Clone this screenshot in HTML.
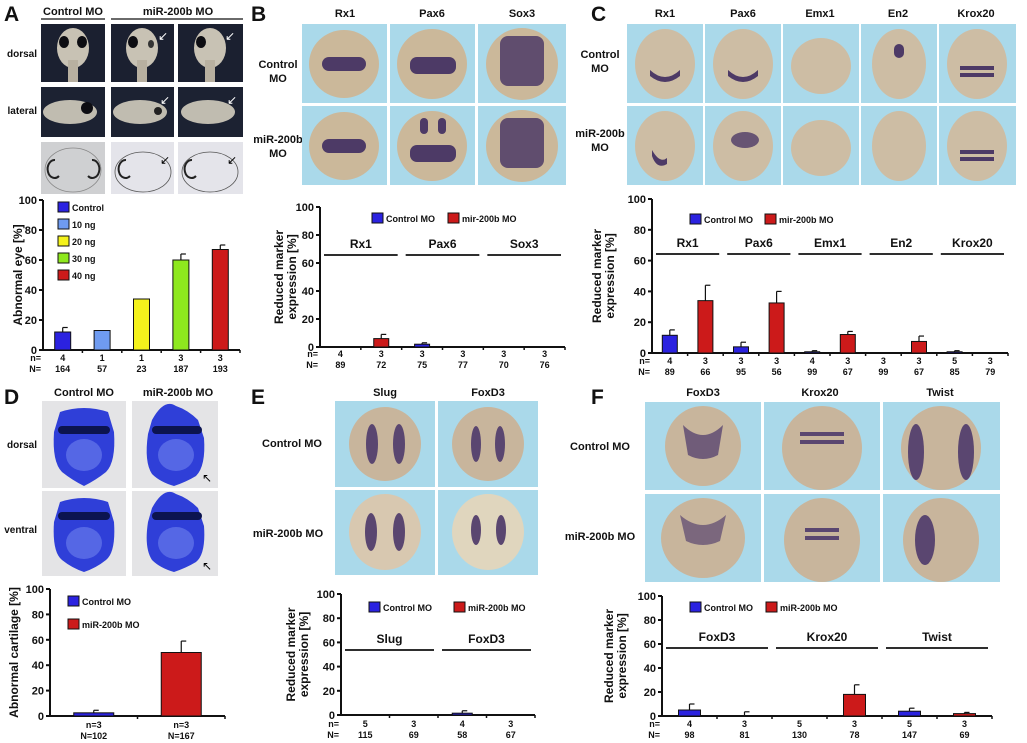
<!DOCTYPE html>
<html><head><meta charset="utf-8">
<style>
html,body{margin:0;padding:0;background:#fff;}
svg{display:block;font-family:"Liberation Sans",Arial,sans-serif;}
.t{font-weight:bold;fill:#111;}
</style></head>
<body>
<svg id="fig" width="1027" height="743" viewBox="0 0 1027 743" xmlns="http://www.w3.org/2000/svg">
<text class="t" x="4" y="21" font-size="21">A</text>
<text class="t" x="251" y="21" font-size="21">B</text>
<text class="t" x="591" y="21" font-size="21">C</text>
<text class="t" x="4" y="404" font-size="21">D</text>
<text class="t" x="251" y="404" font-size="21">E</text>
<text class="t" x="591" y="404" font-size="21">F</text>

<g>
<text class="t" x="73" y="15" font-size="11" text-anchor="middle">Control MO</text>
<line x1="41" y1="19" x2="105" y2="19" stroke="#111" stroke-width="1.2"/>
<text class="t" x="178" y="15" font-size="11" text-anchor="middle">miR-200b MO</text>
<line x1="111" y1="19" x2="243" y2="19" stroke="#111" stroke-width="1.2"/>
<text class="t" x="37" y="57" font-size="10" text-anchor="end">dorsal</text>
<text class="t" x="37" y="114" font-size="10" text-anchor="end">lateral</text>
<rect x="41" y="24" width="64" height="58" fill="#1b2030"/>
<rect x="111" y="24" width="63" height="58" fill="#1b2030"/>
<rect x="178" y="24" width="65" height="58" fill="#1b2030"/>
<ellipse cx="73" cy="48" rx="16" ry="20" fill="#c8c2b4"/><rect x="68" y="60" width="10" height="22" fill="#b8b0a0"/>
<ellipse cx="64" cy="42" rx="5" ry="6" fill="#0d0d12"/><ellipse cx="82" cy="42" rx="5" ry="6" fill="#0d0d12"/>
<ellipse cx="142" cy="48" rx="16" ry="20" fill="#c8c2b4"/><rect x="137" y="60" width="10" height="22" fill="#b8b0a0"/>
<ellipse cx="133" cy="42" rx="5" ry="6" fill="#0d0d12"/><ellipse cx="151" cy="44" rx="3" ry="4" fill="#333"/>
<ellipse cx="210" cy="48" rx="16" ry="20" fill="#c8c2b4"/><rect x="205" y="60" width="10" height="22" fill="#b8b0a0"/>
<ellipse cx="201" cy="42" rx="5" ry="6" fill="#0d0d12"/>
<text x="158" y="40" font-size="12" fill="#fff">↙</text><text x="225" y="40" font-size="12" fill="#fff">↙</text>
<rect x="41" y="87" width="64" height="50" fill="#1c2232"/>
<rect x="111" y="87" width="63" height="50" fill="#1c2232"/>
<rect x="178" y="87" width="65" height="50" fill="#1c2232"/>
<ellipse cx="70" cy="112" rx="27" ry="12" fill="#c0bcb0"/><circle cx="87" cy="108" r="6" fill="#0d0d12"/>
<ellipse cx="140" cy="112" rx="27" ry="12" fill="#c0bcb0"/><circle cx="158" cy="111" r="4" fill="#222"/>
<ellipse cx="208" cy="112" rx="27" ry="12" fill="#c0bcb0"/>
<text x="160" y="104" font-size="12" fill="#fff">↙</text><text x="227" y="104" font-size="12" fill="#fff">↙</text>
<rect x="41" y="142" width="64" height="52" fill="#cfd0d2"/>
<rect x="111" y="142" width="63" height="52" fill="#e4e4ea"/>
<rect x="178" y="142" width="65" height="52" fill="#e4e4ea"/>
<path d="M55 160 a7 9 0 1 0 4 16" fill="none" stroke="#222" stroke-width="2"/>
<path d="M92 160 a7 9 0 1 1 -4 16" fill="none" stroke="#222" stroke-width="2"/>
<ellipse cx="73" cy="170" rx="28" ry="22" fill="none" stroke="#888" stroke-width="0.8"/>
<path d="M126 160 a7 9 0 1 0 4 16" fill="none" stroke="#222" stroke-width="2"/>
<ellipse cx="143" cy="172" rx="28" ry="20" fill="none" stroke="#555" stroke-width="0.8"/>
<path d="M192 160 a7 9 0 1 0 4 16" fill="none" stroke="#222" stroke-width="2"/>
<ellipse cx="210" cy="172" rx="28" ry="20" fill="none" stroke="#555" stroke-width="0.8"/>
<text x="160" y="164" font-size="12" fill="#000">↙</text><text x="227" y="164" font-size="12" fill="#000">↙</text>
</g>

<g>
<text class="t" x="345" y="17" font-size="11" text-anchor="middle">Rx1</text>
<text class="t" x="432" y="17" font-size="11" text-anchor="middle">Pax6</text>
<text class="t" x="522" y="17" font-size="11" text-anchor="middle">Sox3</text>
<text class="t" x="278" y="68" font-size="11" text-anchor="middle">Control</text>
<text class="t" x="278" y="82" font-size="11" text-anchor="middle">MO</text>
<text class="t" x="278" y="143" font-size="11" text-anchor="middle">miR-200b</text>
<text class="t" x="278" y="157" font-size="11" text-anchor="middle">MO</text>
<g fill="#aad9ea">
<rect x="302" y="24" width="85" height="79"/><rect x="390" y="24" width="85" height="79"/><rect x="478" y="24" width="88" height="79"/>
<rect x="302" y="106" width="85" height="79"/><rect x="390" y="106" width="85" height="79"/><rect x="478" y="106" width="88" height="79"/>
</g>
<g fill="#cbb89a">
<ellipse cx="344" cy="64" rx="35" ry="34"/><ellipse cx="432" cy="64" rx="35" ry="35"/><ellipse cx="522" cy="64" rx="36" ry="36"/>
<ellipse cx="344" cy="146" rx="35" ry="34"/><ellipse cx="432" cy="146" rx="35" ry="35"/><ellipse cx="522" cy="146" rx="36" ry="36"/>
</g>
<g fill="#4d3a66">
<rect x="322" y="57" width="44" height="14" rx="7"/><rect x="410" y="57" width="46" height="17" rx="7"/>
<rect x="500" y="36" width="44" height="50" rx="8" opacity="0.85"/>
<rect x="322" y="139" width="44" height="14" rx="7"/><rect x="410" y="145" width="46" height="17" rx="7"/>
<rect x="420" y="118" width="8" height="16" rx="4"/><rect x="438" y="118" width="8" height="16" rx="4"/>
<rect x="500" y="118" width="44" height="50" rx="8" opacity="0.85"/>
</g>
</g>

<g>
<text class="t" x="665" y="17" font-size="11" text-anchor="middle">Rx1</text>
<text class="t" x="743" y="17" font-size="11" text-anchor="middle">Pax6</text>
<text class="t" x="820" y="17" font-size="11" text-anchor="middle">Emx1</text>
<text class="t" x="898" y="17" font-size="11" text-anchor="middle">En2</text>
<text class="t" x="976" y="17" font-size="11" text-anchor="middle">Krox20</text>
<text class="t" x="600" y="58" font-size="11" text-anchor="middle">Control</text>
<text class="t" x="600" y="72" font-size="11" text-anchor="middle">MO</text>
<text class="t" x="600" y="137" font-size="11" text-anchor="middle">miR-200b</text>
<text class="t" x="600" y="151" font-size="11" text-anchor="middle">MO</text>
<g fill="#aad9ea">
<rect x="627" y="24" width="76" height="79"/><rect x="705" y="24" width="76" height="79"/><rect x="783" y="24" width="76" height="79"/><rect x="861" y="24" width="76" height="79"/><rect x="939" y="24" width="77" height="79"/>
<rect x="627" y="106" width="76" height="79"/><rect x="705" y="106" width="76" height="79"/><rect x="783" y="106" width="76" height="79"/><rect x="861" y="106" width="76" height="79"/><rect x="939" y="106" width="77" height="79"/>
</g>
<g fill="#cdbda4">
<ellipse cx="665" cy="64" rx="30" ry="35"/><ellipse cx="743" cy="64" rx="30" ry="35"/><ellipse cx="821" cy="66" rx="30" ry="28"/><ellipse cx="899" cy="64" rx="27" ry="35"/><ellipse cx="977" cy="64" rx="30" ry="35"/>
<ellipse cx="665" cy="146" rx="30" ry="35"/><ellipse cx="743" cy="146" rx="30" ry="35"/><ellipse cx="821" cy="148" rx="30" ry="28"/><ellipse cx="899" cy="146" rx="27" ry="35"/><ellipse cx="977" cy="146" rx="30" ry="35"/>
</g>
<g fill="#4d3a66">
<path d="M650 70 q15 14 30 0 l0 6 q-15 12 -30 0z"/><path d="M728 70 q15 14 30 0 l0 6 q-15 12 -30 0z"/>
<rect x="894" y="44" width="10" height="14" rx="5"/><rect x="960" y="66" width="34" height="4"/><rect x="960" y="73" width="34" height="4"/>
<path d="M652 150 q8 14 15 8 l0 6 q-10 6 -15 -8z"/><ellipse cx="745" cy="140" rx="14" ry="8" opacity="0.8"/>
<rect x="960" y="150" width="34" height="4"/><rect x="960" y="157" width="34" height="4"/>
</g>
</g>

<g>
<text class="t" x="84" y="396" font-size="11" text-anchor="middle">Control MO</text>
<text class="t" x="178" y="396" font-size="11" text-anchor="middle">miR-200b MO</text>
<text class="t" x="37" y="448" font-size="10" text-anchor="end">dorsal</text>
<text class="t" x="37" y="533" font-size="10" text-anchor="end">ventral</text>
<rect x="42" y="401" width="84" height="87" fill="#e4e4e6"/><rect x="132" y="401" width="86" height="87" fill="#e4e4e6"/>
<rect x="42" y="491" width="84" height="85" fill="#e4e4e6"/><rect x="132" y="491" width="86" height="85" fill="#e4e4e6"/>
<g fill="#2f3fd8">
<path d="M60 412 q24 -8 48 0 l6 20 q2 30 -8 40 q-10 8 -22 14 q-12 -6 -22 -14 q-10 -10 -8 -40z"/>
<path d="M152 420 q12 -22 24 -14 q12 4 22 14 l6 18 q2 28 -8 38 q-10 6 -22 10 q-14 -4 -22 -12 q-8 -12 -4 -40z"/>
<path d="M60 502 q24 -8 48 0 l6 20 q2 30 -8 38 q-10 8 -22 12 q-12 -4 -22 -12 q-10 -8 -8 -38z"/>
<path d="M152 508 q12 -22 24 -14 q12 4 22 14 l6 18 q2 28 -8 36 q-10 6 -22 10 q-14 -4 -22 -12 q-8 -12 -4 -38z"/>
</g>
<g fill="#6f82ee" opacity="0.6"><ellipse cx="84" cy="455" rx="18" ry="16"/><ellipse cx="176" cy="455" rx="18" ry="16"/><ellipse cx="84" cy="543" rx="18" ry="16"/><ellipse cx="176" cy="543" rx="18" ry="16"/></g>
<g fill="#0c1450"><rect x="58" y="426" width="52" height="8" rx="4"/><rect x="152" y="426" width="50" height="8" rx="4"/><rect x="58" y="512" width="52" height="8" rx="4"/><rect x="152" y="512" width="50" height="8" rx="4"/></g>
<text x="202" y="482" font-size="12" fill="#000">↖</text><text x="202" y="570" font-size="12" fill="#000">↖</text>
</g>

<g>
<text class="t" x="385" y="396" font-size="11" text-anchor="middle">Slug</text>
<text class="t" x="488" y="396" font-size="11" text-anchor="middle">FoxD3</text>
<text class="t" x="292" y="447" font-size="11" text-anchor="middle">Control MO</text>
<text class="t" x="288" y="537" font-size="11" text-anchor="middle">miR-200b MO</text>
<g fill="#aad9ea"><rect x="335" y="401" width="100" height="86"/><rect x="438" y="401" width="100" height="86"/><rect x="335" y="490" width="100" height="85"/><rect x="438" y="490" width="100" height="85"/></g>
<g fill="#c8b59c"><ellipse cx="385" cy="444" rx="36" ry="37"/><ellipse cx="488" cy="444" rx="36" ry="37"/><ellipse cx="385" cy="532" rx="36" ry="38" fill="#d8c8b0"/><ellipse cx="488" cy="532" rx="36" ry="38" fill="#e0d6be"/></g>
<g fill="#5a4670"><ellipse cx="372" cy="444" rx="6" ry="20"/><ellipse cx="399" cy="444" rx="6" ry="20"/><ellipse cx="476" cy="444" rx="5" ry="18"/><ellipse cx="500" cy="444" rx="5" ry="18"/>
<ellipse cx="371" cy="532" rx="6" ry="19"/><ellipse cx="399" cy="532" rx="6" ry="19"/><ellipse cx="476" cy="530" rx="5" ry="15"/><ellipse cx="501" cy="530" rx="5" ry="15"/></g>
</g>

<g>
<text class="t" x="703" y="396" font-size="11" text-anchor="middle">FoxD3</text>
<text class="t" x="820" y="396" font-size="11" text-anchor="middle">Krox20</text>
<text class="t" x="940" y="396" font-size="11" text-anchor="middle">Twist</text>
<text class="t" x="600" y="450" font-size="11" text-anchor="middle">Control MO</text>
<text class="t" x="600" y="540" font-size="11" text-anchor="middle">miR-200b MO</text>
<g fill="#aad9ea"><rect x="645" y="402" width="116" height="88"/><rect x="764" y="402" width="116" height="88"/><rect x="883" y="402" width="117" height="88"/>
<rect x="645" y="494" width="116" height="88"/><rect x="764" y="494" width="116" height="88"/><rect x="883" y="494" width="117" height="88"/></g>
<g fill="#c8b59c"><ellipse cx="703" cy="446" rx="38" ry="40"/><ellipse cx="822" cy="448" rx="40" ry="42"/><ellipse cx="941" cy="448" rx="40" ry="42"/>
<ellipse cx="703" cy="538" rx="42" ry="40"/><ellipse cx="822" cy="540" rx="38" ry="42"/><ellipse cx="941" cy="540" rx="38" ry="42"/></g>
<g fill="#5a4670"><path d="M683 425 q20 20 40 0 l-5 30 q-15 8 -30 0z" opacity="0.8"/><rect x="800" y="432" width="44" height="4"/><rect x="800" y="440" width="44" height="4"/>
<ellipse cx="916" cy="452" rx="8" ry="28"/><ellipse cx="966" cy="452" rx="8" ry="28"/>
<path d="M680 515 q23 20 46 0 l-6 26 q-17 8 -34 0z" opacity="0.7"/><rect x="805" y="528" width="34" height="4"/><rect x="805" y="536" width="34" height="4"/>
<ellipse cx="925" cy="540" rx="10" ry="25"/></g>
</g>
<g id="charts"></g>
</svg>
<script>
const catsA = ['Control','10 ng','20 ng','30 ng','40 ng'];
const valsA = [12, 13, 34, 60, 67];
const errsA = [15, 13, 34, 64, 70];
const nA = ['4','1','1','3','3'];
const NA = ['164','57','23','187','193'];

const valsB = [0, 6, 2, 0, 0, 0];
const errsB = [0, 9, 3, 0, 0, 0];
const groupsB = ['Rx1','Pax6','Sox3'];
const nB = ['4','3','3','3','3','3'];
const NB = ['89','72','75','77','70','76'];

const valsC = [11.5, 34, 4, 32.5, 0.8, 12, 0, 7.5, 0.8, 0];
const errsC = [15, 44, 7, 40, 1.5, 14, 0, 11, 1.5, 0];
const groupsC = ['Rx1','Pax6','Emx1','En2','Krox20'];
const nC = ['4','3','3','3','4','3','3','3','5','3'];
const NC = ['89','66','95','56','99','67','99','67','85','79'];

const valsD = [2.5, 50];
const errsD = [4.5, 59];
const nD = ['n=3','n=3'];
const ND = ['N=102','N=167'];

const valsE = [0, 0, 1.5, 0];
const errsE = [0, 0, 3.5, 0];
const groupsE = ['Slug','FoxD3'];
const nE = ['5','3','4','3'];
const NE = ['115','69','58','67'];

const valsF = [5, 0, 0, 18, 4, 2];
const errsF = [10, 3.5, 0, 26, 6.5, 3];
const groupsF = ['FoxD3','Krox20','Twist'];
const nF = ['4','3','5','3','5','3'];
const NF = ['98','81','130','78','147','69'];

const yTicks = [0, 20, 40, 60, 80, 100];
const colorsA = ['#2b22e0','#6f9bf0','#f4f21c','#8ee81e','#cc1a1a'];
const BLUE = '#2b22e0', RED = '#cc1a1a';

const NS = 'http://www.w3.org/2000/svg';
const root = document.getElementById('charts');
function mk(tag, attrs, parent) {
  const e = document.createElementNS(NS, tag);
  for (const k in attrs) e.setAttribute(k, attrs[k]);
  (parent || root).appendChild(e);
  return e;
}
function txt(parent, x, y, s, size, anchor, extra) {
  const t = mk('text', Object.assign({x: x, y: y, 'font-size': size, 'text-anchor': anchor || 'middle', 'font-weight': 'bold', fill: '#111'}, extra || {}), parent);
  t.textContent = s;
  return t;
}

function drawChart(c) {
  const g = mk('g', {});
  
  
  const n = c.vals.length;
  const step = (c.x1 - c.x0) / n;
  const xs = i => c.x0 + (i + 0.5) * step;
  const ys = v => c.y0 - (v / 100) * (c.y0 - c.yTop);
  const ya = mk('line', {x1: c.x0, y1: c.yTop, x2: c.x0, y2: c.y0, stroke: '#111', 'stroke-width': 2}, g);
  
  
  yTicks.forEach(t => {
    const y = ys(t);
    mk('line', {x1: c.x0 - 4, y1: y, x2: c.x0, y2: y, stroke: '#111', 'stroke-width': 2}, g);
    const lb = txt(g, c.x0 - 6, y + 4, String(t), 11, 'end');
    
    
  });
  const xa = mk('line', {x1: c.x0 - 4, y1: c.y0, x2: c.x1, y2: c.y0, stroke: '#111', 'stroke-width': 2}, g);
  
  
  for (let i = 1; i <= n; i++) {
    mk('line', {x1: c.x0 + i * step, y1: c.y0, x2: c.x0 + i * step, y2: c.y0 + 3, stroke: '#111', 'stroke-width': 1.5}, g);
  }
  const ty = mk('g', {transform: 'translate(' + c.titleX + ',' + (c.yTop + c.y0) / 2 + ') rotate(-90)'}, g);
  
  
  c.title.forEach((s, k) => { txt(ty, 0, k * 13, s, 12, 'middle'); });
  c.vals.forEach((v, i) => {
    const cx = xs(i);
    const col = c.colors ? c.colors[i] : (i % 2 === 0 ? BLUE : RED);
    const e = c.errs[i];
    if (e > v) {
      const el = mk('line', {x1: cx, y1: ys(e), x2: cx, y2: ys(v), stroke: '#111', 'stroke-width': 1.2}, g);
      
      
      mk('line', {x1: cx, y1: ys(e), x2: cx + 5, y2: ys(e), stroke: '#111', 'stroke-width': 1.2}, g);
    }
    if (v > 0) {
      const r = mk('rect', {x: cx - c.bw / 2, y: ys(v), width: c.bw, height: c.y0 - ys(v), fill: col, stroke: '#111', 'stroke-width': 1}, g);
      
      
    }
    const a = txt(g, cx, c.nY, c.nL[i], 9, 'middle');
    
    
    const b = txt(g, cx, c.nY + 11, c.NL[i], 9, 'middle');
    
    
  });
  if (c.nPrefix) {
    txt(g, c.x0 - 2, c.nY, 'n=', 9, 'end');
    txt(g, c.x0 - 2, c.nY + 11, 'N=', 9, 'end');
  }
  if (c.groups) {
    c.groups.forEach((s, k) => {
      const a = c.x0 + 2 * k * step + 4, b = c.x0 + 2 * (k + 1) * step - 4;
      const gl = mk('line', {x1: a, y1: c.gY, x2: b, y2: c.gY, stroke: '#111', 'stroke-width': 1.8}, g);
      
      
      const gt = txt(g, (a + b) / 2, c.gY - 7, s, 12, 'middle');
      
      
    });
  }
  c.legend.forEach(L => {
    const lg = mk('g', {}, g);
    
    
    mk('rect', {x: L.x, y: L.y - 5, width: 11, height: 10, fill: L.color, stroke: '#111', 'stroke-width': 1}, lg);
    txt(lg, L.x + 14, L.y + 4, L.label, 9, 'start');
  });
}

drawChart({name: 'chart-a', vals: valsA, errs: errsA, nL: nA, NL: NA, colors: colorsA, x0: 43, x1: 240, yTop: 200, y0: 350, bw: 16, nY: 361, nPrefix: true, titleX: 22, title: ['Abnormal eye [%]'],
  legend: catsA.map((s, i) => ({x: 58, y: 207 + i * 17, color: colorsA[i], label: s}))});
drawChart({name: 'chart-b', vals: valsB, errs: errsB, nL: nB, NL: NB, groups: groupsB, gY: 255, x0: 320, x1: 565, yTop: 207, y0: 347, bw: 15, nY: 357, nPrefix: true, titleX: 283, title: ['Reduced marker', 'expression [%]'],
  legend: [{x: 372, y: 218, color: BLUE, label: 'Control MO'}, {x: 448, y: 218, color: RED, label: 'mir-200b MO'}]});
drawChart({name: 'chart-c', vals: valsC, errs: errsC, nL: nC, NL: NC, groups: groupsC, gY: 254, x0: 652, x1: 1008, yTop: 199, y0: 353, bw: 15, nY: 364, nPrefix: true, titleX: 601, title: ['Reduced marker', 'expression [%]'],
  legend: [{x: 690, y: 219, color: BLUE, label: 'Control MO'}, {x: 765, y: 219, color: RED, label: 'mir-200b MO'}]});
drawChart({name: 'chart-d', vals: valsD, errs: errsD, nL: nD, NL: ND, x0: 50, x1: 225, yTop: 589, y0: 716, bw: 40, nY: 728, nPrefix: false, titleX: 18, title: ['Abnormal cartilage [%]'],
  legend: [{x: 68, y: 601, color: BLUE, label: 'Control MO'}, {x: 68, y: 624, color: RED, label: 'miR-200b MO'}]});
drawChart({name: 'chart-e', vals: valsE, errs: errsE, nL: nE, NL: NE, groups: groupsE, gY: 650, x0: 341, x1: 535, yTop: 594, y0: 715, bw: 20, nY: 727, nPrefix: true, titleX: 295, title: ['Reduced marker', 'expression [%]'],
  legend: [{x: 369, y: 607, color: BLUE, label: 'Control MO'}, {x: 454, y: 607, color: RED, label: 'miR-200b MO'}]});
drawChart({name: 'chart-f', vals: valsF, errs: errsF, nL: nF, NL: NF, groups: groupsF, gY: 648, x0: 662, x1: 992, yTop: 596, y0: 716, bw: 22, nY: 727, nPrefix: true, titleX: 613, title: ['Reduced marker', 'expression [%]'],
  legend: [{x: 690, y: 607, color: BLUE, label: 'Control MO'}, {x: 766, y: 607, color: RED, label: 'miR-200b MO'}]});
</script>
</body></html>
